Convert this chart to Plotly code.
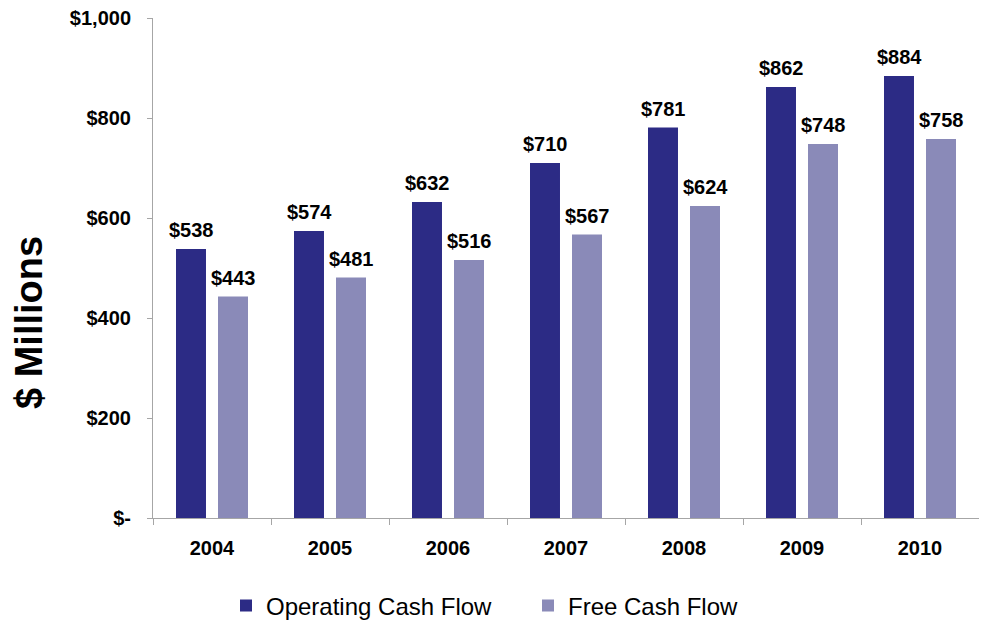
import plotly.graph_objects as go

years = ["2004", "2005", "2006", "2007", "2008", "2009", "2010"]
operating_cf = [538, 574, 632, 710, 781, 862, 884]
free_cf = [443, 481, 516, 567, 624, 748, 758]
y_tick_vals = [0, 200, 400, 600, 800, 1000]
y_tick_text = ["$-", "$200", "$400", "$600", "$800", "$1,000"]

FONT = "Liberation Sans, Arial, sans-serif"
W, H = 979, 614
L, R, T, B = 145, 8, 10, 104

fig = go.Figure()
fig.add_trace(go.Bar(
    name="Operating Cash Flow", x=years, y=operating_cf,
    marker=dict(color="#2C2B85", line=dict(width=0)),
))
fig.add_trace(go.Bar(
    name="Free Cash Flow", x=years, y=free_cf,
    marker=dict(color="#8A8AB8", line=dict(width=0)),
))

annotations = []
for series, shift in ((operating_cf, -21), (free_cf, 21)):
    for i, v in enumerate(series):
        annotations.append(dict(
            x=i, y=v, xref="x", yref="y", text=f"${v}", showarrow=False,
            xanchor="center", yanchor="bottom", xshift=shift, yshift=6,
            font=dict(family=FONT, size=20, color="black", weight="bold"),
        ))
annotations.append(dict(
    text="$ Millions", xref="paper", yref="paper",
    x=(21 - L) / (W - L - R), y=(H - B - 314) / (H - T - B),
    xanchor="center", yanchor="middle", textangle=-90, showarrow=False,
    font=dict(family=FONT, size=38, color="black", weight="bold"),
))

fig.update_layout(
    width=W, height=H,
    margin=dict(l=L, r=R, t=T, b=B, autoexpand=False),
    paper_bgcolor="white", plot_bgcolor="white",
    barmode="group", bargap=0.288, bargroupgap=0.286,
    font=dict(family=FONT, color="black"),
    showlegend=True,
    legend=dict(
        orientation="h", xref="container", x=218 / W, xanchor="left",
        yref="container", y=(H - 598) / H, yanchor="middle",
        font=dict(family=FONT, size=24, color="black"),
        itemclick=False, entrywidth=257,
    ),
    annotations=annotations,
)
fig.update_xaxes(
    type="category", categoryarray=years, categoryorder="array",
    range=[-0.5, len(years) - 0.5],
    showline=True, linecolor="#A6A6A6", linewidth=1,
    ticks="outside", tickson="boundaries", ticklen=6, tickcolor="#A6A6A6",
    tickfont=dict(family=FONT, size=20, color="black", weight="bold"),
    ticklabelstandoff=12, showgrid=False, zeroline=False,
)
fig.update_yaxes(
    range=[0, 1000], tickvals=y_tick_vals, ticktext=y_tick_text,
    showline=True, linecolor="#A6A6A6", linewidth=1,
    ticks="outside", ticklen=5, tickcolor="#A6A6A6",
    tickfont=dict(family=FONT, size=20, color="black", weight="bold"),
    ticklabelstandoff=12, ticklabeloverflow="allow",
    showgrid=False, zeroline=False,
)

fig.write_html("out.html")
